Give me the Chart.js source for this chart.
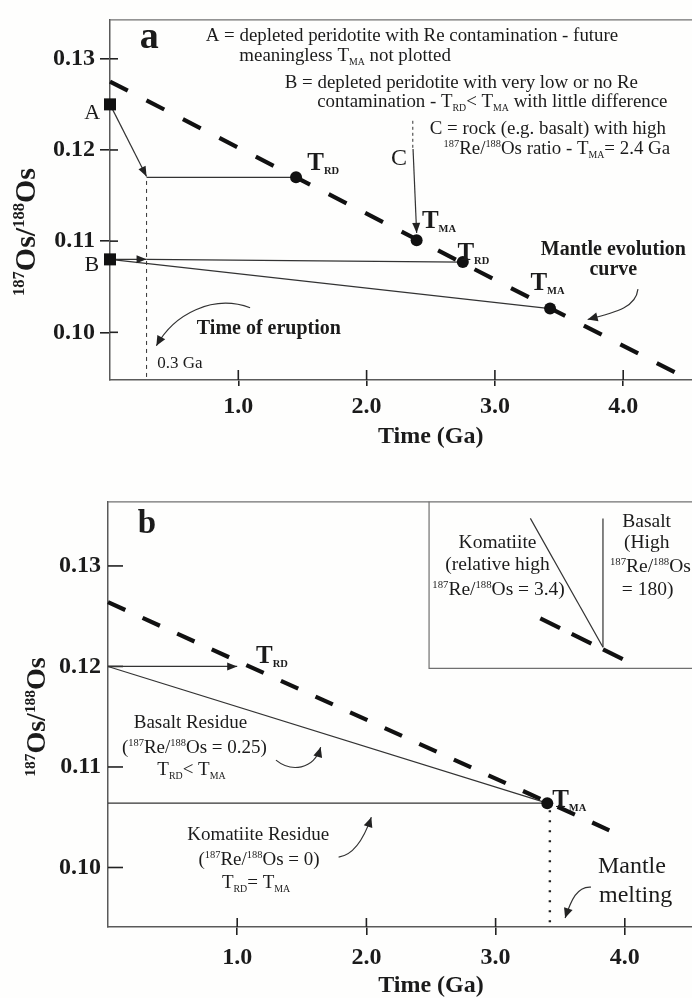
<!DOCTYPE html>
<html><head><meta charset="utf-8">
<script src="https://cdn.jsdelivr.net/npm/chart.js@4/dist/chart.umd.min.js"></script>
<style>
html,body{margin:0;padding:0;background:#fefefd;overflow:hidden;}
#wrap{position:relative;width:692px;height:998px;overflow:hidden;background:#fefefd;}
canvas{position:absolute;left:0;}
#ca{top:0}
#cb{top:480px}
</style></head><body>
<div id="wrap"><canvas id="ca" width="760" height="480"></canvas><canvas id="cb" width="760" height="540"></canvas></div>
<script>
// ---------------- data ----------------
const timeTicks = [1, 2, 3, 4];
const osTicks = [0.10, 0.11, 0.12, 0.13];

// Panel a
const aMantleTime = [0, 4.5];
const aMantleOs = [0.1275, 0.0949];
const aSampleTime = [0, 0];          // A, B
const aSampleOs = [0.125, 0.108];
const aAgeTime = [1.45, 2.39, 2.75, 3.43];   // T_RD(A), T_MA(C), T_RD(B), T_MA(B)
const aAgeOs = [0.1170, 0.1101, 0.1077, 0.1026];
const aPathATime = [0, 0.285];
const aPathAOs = [0.125, 0.1171];
const aTrdATime = [0.285, 1.45];
const aTrdAOs = [0.1170, 0.1170];
const aArrowBTime = [0, 0.285];
const aArrowBOs = [0.108, 0.108];
const aTrdBTime = [0.285, 2.75];
const aTrdBOs = [0.108, 0.1077];
const aTmaBTime = [0, 3.43];
const aTmaBOs = [0.108, 0.1026];
const aEruptTime = [0.285, 0.285];
const aEruptOs = [0.1166, 0.0948];
const aCDashTime = [2.36, 2.36];
const aCDashOs = [0.1232, 0.1201];
const aCArrowTime = [2.362, 2.39];
const aCArrowOs = [0.1201, 0.1109];

// Panel b
const bMantleTime = [0, 3.88];
const bMantleOs = [0.1264, 0.1037];
const bTmaTime = [3.40];
const bTmaOs = [0.1064];
const bTrdTime = [0, 1.0];
const bTrdOs = [0.1200, 0.1200];
const bBasaltResTime = [0, 3.40];
const bBasaltResOs = [0.1200, 0.1064];
const bKomResTime = [0, 3.40];
const bKomResOs = [0.1064, 0.1064];
const bMeltTime = [3.42, 3.42];
const bMeltOs = [0.1057, 0.0941];
const bInsetBoxTime = [2.485, 2.485, 5.0];
const bInsetBoxOs = [0.1364, 0.1198, 0.1198];
const bInsetKomTime = [3.269, 3.831];
const bInsetKomOs = [0.13473, 0.12191];
const bInsetBasTime = [3.831, 3.831];
const bInsetBasOs = [0.13473, 0.12191];
const bInsetMantleTime = [3.346, 4.0];
const bInsetMantleOs = [0.12479, 0.12062];

// ---------------- helpers ----------------
const SERIF = '"Liberation Serif","Times New Roman",serif';
const INK = '#1b1b1b';
const LINE = '#333';
const pts = (ts, os) => ts.map((t, i) => ({x: t, y: os[i]}));
const sub = t => ({t, sub: true});
const sup = t => ({t, sup: true});
const Tlab = (t, os, s) => ({t, os, parts: [{t: 'T', size: 25, bold: true}, {t: s, size: 10.5, bold: true, dy: 4}]});

function richText(ctx, x, y, parts, o) {
  const size = o.size || 18;
  const segs = parts.map(p => typeof p === 'string' ? {t: p} : Object.assign({}, p));
  let total = 0;
  segs.forEach(s => {
    let sz = s.size || size;
    let dy = s.dy || 0;
    if (s.sub) { sz = size * 0.52; dy = size * 0.2; }
    if (s.sup) { sz = size * 0.55; dy = -size * 0.36; }
    const b = s.bold !== undefined ? s.bold : !!o.bold;
    s.font = (b ? 'bold ' : '') + sz + 'px ' + SERIF;
    s.dyy = dy;
    ctx.font = s.font;
    s.w = ctx.measureText(s.t).width;
    total += s.w;
  });
  let cx = o.align === 'center' ? x - total / 2 : o.align === 'right' ? x - total : x;
  ctx.textAlign = 'left';
  ctx.textBaseline = 'alphabetic';
  ctx.fillStyle = o.color || INK;
  segs.forEach(s => { ctx.font = s.font; ctx.fillText(s.t, cx, y + s.dyy); cx += s.w; });
}

function arrowHead(ctx, x, y, ang, len, half) {
  ctx.save(); ctx.translate(x, y); ctx.rotate(ang);
  ctx.beginPath(); ctx.moveTo(0, 0); ctx.lineTo(-len, -half); ctx.lineTo(-len, half); ctx.closePath(); ctx.fill();
  ctx.restore();
}

function makeAnnot(cfg) {
  return {
    id: 'annot' + cfg.name,
    beforeDatasetsDraw(chart) {
      const {ctx, chartArea: ca, scales: {x, y}} = chart;
      ctx.save();
      ctx.strokeStyle = '#707070'; ctx.lineWidth = 1.3;
      ctx.beginPath(); ctx.moveTo(ca.left, ca.top + 0.5); ctx.lineTo(ca.right, ca.top + 0.5); ctx.stroke();
      ctx.strokeStyle = '#222'; ctx.lineWidth = 1.6;
      timeTicks.forEach(v => { const px = x.getPixelForValue(v); ctx.beginPath(); ctx.moveTo(px, ca.bottom); ctx.lineTo(px, ca.bottom - cfg.innerX); ctx.stroke(); });
      osTicks.forEach(v => { const py = y.getPixelForValue(v); ctx.beginPath(); ctx.moveTo(ca.left, py); ctx.lineTo(ca.left + cfg.innerY, py); ctx.stroke(); });
      ctx.restore();
    },
    afterDatasetsDraw(chart) {
      const {ctx, scales: {x, y}} = chart;
      ctx.save();
      ctx.fillStyle = '#222';
      chart.data.datasets.forEach((ds, i) => {
        if (!ds.arrow) return;
        const d = chart.getDatasetMeta(i).data;
        const a = d[d.length - 2], b = d[d.length - 1];
        arrowHead(ctx, b.x, b.y, Math.atan2(b.y - a.y, b.x - a.x), 10, 4);
      });
      ctx.strokeStyle = LINE; ctx.lineWidth = 1.2;
      cfg.curves.forEach(c => {
        const p = c.map(q => [x.getPixelForValue(q[0]), y.getPixelForValue(q[1])]);
        ctx.beginPath(); ctx.moveTo(p[0][0], p[0][1]);
        ctx.bezierCurveTo(p[1][0], p[1][1], p[2][0], p[2][1], p[3][0], p[3][1]); ctx.stroke();
        arrowHead(ctx, p[3][0], p[3][1], Math.atan2(p[3][1] - p[2][1], p[3][0] - p[2][0]), 10, 4.5);
      });
      cfg.labels.forEach(l => richText(ctx, x.getPixelForValue(l.t), y.getPixelForValue(l.os), l.parts, l));
      const yt = cfg.yTitle;
      ctx.translate(yt.x, yt.y); ctx.rotate(-Math.PI / 2);
      richText(ctx, 0, yt.base, [sup('187'), 'Os/', sup('188'), 'Os'], {size: yt.size, bold: true, align: 'center'});
      ctx.restore();
    }
  };
}

function lineDs(ts, os, extra) {
  return Object.assign({data: pts(ts, os), showLine: true, pointRadius: 0, borderColor: LINE, borderWidth: 1.2, clip: false, fill: false}, extra || {});
}
function mantleDs(ts, os, dash) {
  return lineDs(ts, os, {borderColor: '#111', borderWidth: 4.2, borderDash: dash, borderCapStyle: 'butt'});
}

function scalesFor(p) {
  return {
    x: {
      type: 'linear', min: 0, max: 5,
      afterBuildTicks: s => { s.ticks = timeTicks.map(v => ({value: v})); },
      afterFit: s => { s.height = p.xHeight; },
      grid: {drawOnChartArea: false, drawTicks: true, tickLength: p.xTickOut, color: '#222', lineWidth: 1.6},
      border: {display: true, color: '#5a5a5a', width: 1.5},
      ticks: {color: INK, padding: p.xPad, maxRotation: 0, font: {family: SERIF, size: 24, weight: 'bold'}, callback: v => Number(v).toFixed(1)},
      title: {display: true, text: 'Time (Ga)', color: INK, font: {family: SERIF, size: 24, weight: 'bold'}, padding: {top: 0, bottom: p.titlePad}}
    },
    y: {
      type: 'linear', min: p.yMin, max: p.yMax,
      afterBuildTicks: s => { s.ticks = osTicks.map(v => ({value: v})); },
      afterFit: s => { s.width = p.yWidth; },
      grid: {drawOnChartArea: false, drawTicks: p.yTickOut > 0, tickLength: p.yTickOut, color: '#222', lineWidth: 1.6},
      border: {display: true, color: '#5a5a5a', width: 1.5},
      ticks: {color: INK, padding: p.yPad, font: {family: SERIF, size: 24, weight: 'bold'}, callback: v => Number(v).toFixed(2)}
    }
  };
}

const baseOpts = (p) => ({
  responsive: false, animation: false, devicePixelRatio: 1, events: [],
  layout: {padding: {top: p.top, left: 0, right: 0, bottom: 0}},
  plugins: {legend: {display: false}, tooltip: {enabled: false}, title: {display: false}},
  scales: scalesFor(p)
});

// ---------------- panel a ----------------
const aLabels = [
  {t: 0.231, os: 0.13121, size: 38, bold: true, parts: ['a']},
  {t: 0.746, os: 0.13196, size: 18.9, parts: ['A = depleted peridotite with Re contamination - future']},
  {t: 1.008, os: 0.12971, size: 18.9, parts: ['meaningless T', sub('MA'), ' not plotted']},
  {t: 1.362, os: 0.12679, size: 18.9, parts: ['B = depleted peridotite with very low or no Re']},
  {t: 1.615, os: 0.12467, size: 18.9, parts: ['contamination - T', sub('RD'), '< T', sub('MA'), ' with little difference']},
  {t: 2.492, os: 0.12178, size: 18.9, parts: ['C = rock (e.g. basalt) with high']},
  {t: 2.600, os: 0.11953, size: 18.9, parts: [sup('187'), 'Re/', sup('188'), 'Os ratio - T', sub('MA'), '= 2.4 Ga']},
  {t: -0.077, os: 0.12338, size: 22, align: 'right', parts: ['A']},
  {t: -0.085, os: 0.10677, size: 22, align: 'right', parts: ['B']},
  {t: 2.315, os: 0.11835, size: 24, align: 'right', parts: ['C']},
  Tlab(1.538, 0.1178, 'RD'),
  Tlab(2.431, 0.11147, 'MA'),
  Tlab(2.708, 0.10795, 'RD'),
  Tlab(3.277, 0.10463, 'MA'),
  {t: 3.923, os: 0.10849, size: 20, bold: true, align: 'center', parts: ['Mantle evolution']},
  {t: 3.923, os: 0.10624, size: 20, bold: true, align: 'center', parts: ['curve']},
  {t: 0.677, os: 0.0998, size: 20, bold: true, parts: ['Time of eruption']},
  {t: 0.369, os: 0.09606, size: 17, parts: ['0.3 Ga']}
];
const aCurves = [
  [[1.092, 0.10270], [0.80, 0.10420], [0.50, 0.10200], [0.3615, 0.09852]],
  [[4.115, 0.10474], [4.10, 0.10281], [3.962, 0.10227], [3.723, 0.10141]]
];

new Chart(document.getElementById('ca'), {
  type: 'scatter',
  data: {datasets: [
    {data: pts(aSampleTime, aSampleOs), pointStyle: 'rect', pointRadius: 8.5, backgroundColor: '#111', borderColor: '#111', borderWidth: 0, clip: false},
    {data: pts(aAgeTime, aAgeOs), pointStyle: 'circle', pointRadius: 6, backgroundColor: '#111', borderColor: '#111', borderWidth: 0, clip: false},
    lineDs(aPathATime, aPathAOs, {arrow: true}),
    lineDs(aTrdATime, aTrdAOs),
    lineDs(aArrowBTime, aArrowBOs, {arrow: true}),
    lineDs(aTrdBTime, aTrdBOs),
    lineDs(aTmaBTime, aTmaBOs),
    lineDs(aEruptTime, aEruptOs, {borderDash: [4, 4], borderWidth: 1}),
    lineDs(aCDashTime, aCDashOs, {borderDash: [3, 3], borderWidth: 1}),
    lineDs(aCArrowTime, aCArrowOs, {arrow: true}),
    mantleDs(aMantleTime, aMantleOs, [20, 21])
  ]},
  options: baseOpts({top: 11, yMin: 0.09477, yMax: 0.13432, xHeight: 100, yWidth: 110, xTickOut: 6, xPad: 6, yTickOut: 10, yPad: 5, titlePad: 29}),
  plugins: [makeAnnot({name: 'a', innerX: 10, innerY: 8, labels: aLabels, curves: aCurves, yTitle: {x: 25, y: 232, base: 10, size: 30}})]
});

// ---------------- panel b ----------------
const reOs = (v) => ['(', sup('187'), 'Re/', sup('188'), 'Os = ' + v + ')'];
const bLabels = [
  {t: 0.231, os: 0.13324, size: 33, bold: true, parts: ['b']},
  Tlab(1.146, 0.12032, 'RD'),
  Tlab(3.438, 0.1060, 'MA'),
  {t: 0.638, os: 0.11386, size: 19, align: 'center', parts: ['Basalt Residue']},
  {t: 0.669, os: 0.11137, size: 19, align: 'center', parts: reOs('0.25')},
  {t: 0.646, os: 0.10918, size: 19, align: 'center', parts: ['T', sub('RD'), '< T', sub('MA')]},
  {t: 1.162, os: 0.10272, size: 19, align: 'center', parts: ['Komatiite Residue']},
  {t: 1.169, os: 0.10024, size: 19, align: 'center', parts: reOs('0')},
  {t: 1.146, os: 0.09795, size: 19, align: 'center', parts: ['T', sub('RD'), '= T', sub('MA')]},
  {t: 3.792, os: 0.09944, size: 24, parts: ['Mantle']},
  {t: 3.800, os: 0.09656, size: 24, parts: ['melting']},
  {t: 3.015, os: 0.13175, size: 19.5, align: 'center', parts: ['Komatiite']},
  {t: 3.015, os: 0.12956, size: 19.5, align: 'center', parts: ['(relative high']},
  {t: 3.023, os: 0.12708, size: 19.5, align: 'center', parts: [sup('187'), 'Re/', sup('188'), 'Os = 3.4)']},
  {t: 4.169, os: 0.13384, size: 19.5, align: 'center', parts: ['Basalt']},
  {t: 4.169, os: 0.13175, size: 19.5, align: 'center', parts: ['(High']},
  {t: 3.885, os: 0.12936, size: 19.5, parts: [sup('187'), 'Re/', sup('188'), 'Os']},
  {t: 4.177, os: 0.12708, size: 19.5, align: 'center', parts: ['= 180)']}
];
const bCurves = [
  [[1.300, 0.11068], [1.415, 0.10948], [1.592, 0.10968], [1.646, 0.11197]],
  [[1.785, 0.10103], [1.900, 0.10123], [1.977, 0.10273], [2.038, 0.10501]],
  [[3.738, 0.09805], [3.631, 0.09815], [3.585, 0.09676], [3.538, 0.09497]]
];

new Chart(document.getElementById('cb'), {
  type: 'scatter',
  data: {datasets: [
    {data: pts(bTmaTime, bTmaOs), pointStyle: 'circle', pointRadius: 6, backgroundColor: '#111', borderColor: '#111', borderWidth: 0, clip: false},
    lineDs(bTrdTime, bTrdOs, {arrow: true}),
    lineDs(bBasaltResTime, bBasaltResOs),
    lineDs(bKomResTime, bKomResOs),
    lineDs(bMeltTime, bMeltOs, {borderDash: [2, 8], borderWidth: 2.4, borderColor: '#222'}),
    lineDs(bInsetBoxTime, bInsetBoxOs, {borderColor: '#707070', borderWidth: 1.2}),
    lineDs(bInsetKomTime, bInsetKomOs),
    lineDs(bInsetBasTime, bInsetBasOs),
    mantleDs(bInsetMantleTime, bInsetMantleOs, [22, 13]),
    mantleDs(bMantleTime, bMantleOs, [19, 19])
  ]},
  options: baseOpts({top: 21, yMin: 0.09408, yMax: 0.13642, xHeight: 93, yWidth: 108, xTickOut: 8, xPad: 8, yTickOut: 0, yPad: 7, titlePad: 20}),
  plugins: [makeAnnot({name: 'b', innerX: 9, innerY: 15, labels: bLabels, curves: bCurves, yTitle: {x: 36, y: 237, base: 9, size: 28}})]
});
</script>
</body></html>
